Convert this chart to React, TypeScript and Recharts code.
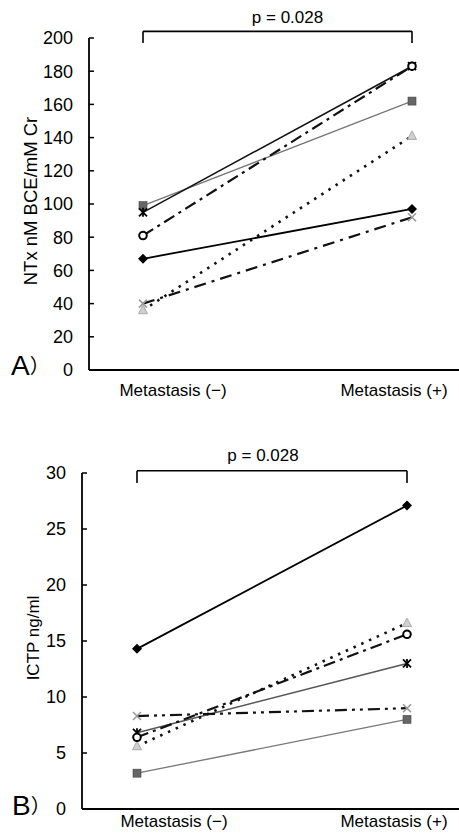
import React from "react";
import { LineChart, Line, XAxis, YAxis, ReferenceLine } from "recharts";

const categories = ["Metastasis (−)", "Metastasis (+)"];

// Panel A: NTx nM BCE/mM Cr
const ntxDiamond = [67, 97];
const ntxCircle = [81, 183];
const ntxSquare = [99, 162];
const ntxAsterisk = [95, 183];
const ntxTriangle = [36, 141];
const ntxCross = [40, 92];
const ntxTicks = [0, 20, 40, 60, 80, 100, 120, 140, 160, 180, 200];

// Panel B: ICTP ng/ml
const ictpDiamond = [14.3, 27.1];
const ictpTriangle = [5.6, 16.6];
const ictpCircle = [6.4, 15.6];
const ictpAsterisk = [6.8, 13.0];
const ictpCross = [8.3, 9.0];
const ictpSquare = [3.2, 8.0];
const ictpTicks = [0, 5, 10, 15, 20, 25, 30];

const FONT = "'Liberation Sans', Arial, sans-serif";

type Kind = "diamond" | "circle" | "square" | "asterisk" | "triangle" | "cross";

interface SeriesStyle {
  kind: Kind;
  stroke: string;
  width: number;
  dash?: string;
}

function buildRows(series: Record<string, number[]>) {
  return categories.map((c, i) => {
    const row: Record<string, string | number> = { cat: c };
    Object.keys(series).forEach((k) => (row[k] = series[k][i]));
    return row;
  });
}

const ntxRows = buildRows({
  square: ntxSquare,
  asterisk: ntxAsterisk,
  triangle: ntxTriangle,
  cross: ntxCross,
  diamond: ntxDiamond,
  circle: ntxCircle,
});

const ictpRows = buildRows({
  square: ictpSquare,
  asterisk: ictpAsterisk,
  triangle: ictpTriangle,
  cross: ictpCross,
  circle: ictpCircle,
  diamond: ictpDiamond,
});

const ntxStyles: SeriesStyle[] = [
  { kind: "square", stroke: "#777", width: 1.3 },
  { kind: "asterisk", stroke: "#111", width: 1.5 },
  { kind: "triangle", stroke: "#111", width: 2.6, dash: "2.5 6" },
  { kind: "cross", stroke: "#111", width: 2.2, dash: "12 6 3 6" },
  { kind: "diamond", stroke: "#000", width: 1.8 },
  { kind: "circle", stroke: "#111", width: 2.2, dash: "12 5 3 5" },
];

const ictpStyles: SeriesStyle[] = [
  { kind: "square", stroke: "#777", width: 1.3 },
  { kind: "asterisk", stroke: "#555", width: 1.5 },
  { kind: "triangle", stroke: "#111", width: 2.6, dash: "2.5 6" },
  { kind: "cross", stroke: "#111", width: 2.2, dash: "12 5 3 5 3 5" },
  { kind: "circle", stroke: "#111", width: 2.2, dash: "12 5 3 5" },
  { kind: "diamond", stroke: "#000", width: 1.8 },
];

function Marker({ cx, cy, kind }: { cx: number; cy: number; kind: Kind }) {
  if (cx == null || cy == null) return null;
  switch (kind) {
    case "diamond":
      return <path d={`M${cx},${cy - 5}L${cx + 5},${cy}L${cx},${cy + 5}L${cx - 5},${cy}Z`} fill="#000" />;
    case "circle":
      return <circle cx={cx} cy={cy} r={3.8} fill="#fff" stroke="#000" strokeWidth={2} />;
    case "square":
      return <rect x={cx - 4} y={cy - 4} width={8} height={8} fill="#666" stroke="#444" strokeWidth={0.6} />;
    case "asterisk":
      return (
        <g stroke="#000" strokeWidth={1.8}>
          <line x1={cx - 4} y1={cy - 4} x2={cx + 4} y2={cy + 4} />
          <line x1={cx - 4} y1={cy + 4} x2={cx + 4} y2={cy - 4} />
          <line x1={cx} y1={cy - 4.5} x2={cx} y2={cy + 4.5} />
        </g>
      );
    case "triangle":
      return <path d={`M${cx},${cy - 5}L${cx + 4.5},${cy + 3.5}L${cx - 4.5},${cy + 3.5}Z`} fill="#d0d0d0" stroke="#aaa" strokeWidth={1} />;
    case "cross":
      return (
        <g stroke="#999" strokeWidth={1.6}>
          <line x1={cx - 4} y1={cy - 4} x2={cx + 4} y2={cy + 4} />
          <line x1={cx - 4} y1={cy + 4} x2={cx + 4} y2={cy - 4} />
        </g>
      );
  }
  return null;
}

const dotFor = (kind: Kind) => (p: any) => <Marker key={`${kind}-${p.index}`} cx={p.cx} cy={p.cy} kind={kind} />;

interface PanelProps {
  rows: Record<string, string | number>[];
  styles: SeriesStyle[];
  ticks: number[];
  yLabel: string;
  yLabelSize: number;
  height: number;
  marginTop: number;
  marginBottom: number;
  axisWidth: number;
  xAxisHeight: number;
  padLeft: number;
  padRight: number;
  labelShift: number[];
  labelBaseline: number;
  labelX: number;
  bracketLow: number;
  bracketHigh: number;
  pOffset: number;
  pDx: number;
}

function Panel(props: PanelProps) {
  const top = props.ticks[props.ticks.length - 1];
  const XTick = (t: any) => (
    <text
      x={t.x + props.labelShift[t.index]}
      y={t.y + props.labelBaseline}
      textAnchor="middle"
      fontSize={17}
      fontFamily={FONT}
      fill="#000"
    >
      {t.payload.value}
    </text>
  );
  return (
    <LineChart
      width={459}
      height={props.height}
      data={props.rows}
      margin={{ top: props.marginTop, right: 0, bottom: props.marginBottom, left: 0 }}
    >
      <XAxis
        dataKey="cat"
        padding={{ left: props.padLeft, right: props.padRight }}
        height={props.xAxisHeight}
        axisLine={{ stroke: "#000", strokeWidth: 2 }}
        tickLine={false}
        tickSize={0}
        tickMargin={0}
        tick={XTick}
        interval={0}
      />
      <YAxis
        type="number"
        domain={[0, top]}
        ticks={props.ticks}
        width={props.axisWidth}
        axisLine={{ stroke: "#000", strokeWidth: 1.8 }}
        tickLine={{ stroke: "#000", strokeWidth: 1.5 }}
        tickSize={-5}
        tickMargin={21}
        tick={{ fontSize: 18, fontFamily: FONT, fill: "#000" }}
        label={{
          content: (lp: any) => {
            const vb = lp.viewBox;
            const cx = vb.x + props.labelX;
            const cy = vb.y + vb.height / 2 - 3;
            return (
              <text
                x={cx}
                y={cy}
                transform={`rotate(-90 ${cx} ${cy})`}
                textAnchor="middle"
                dominantBaseline="central"
                fontSize={props.yLabelSize}
                fontFamily={FONT}
                fill="#000"
              >
                {props.yLabel}
              </text>
            );
          },
        }}
      />
      <ReferenceLine
        segment={[
          { x: categories[0], y: props.bracketLow },
          { x: categories[0], y: props.bracketHigh },
        ]}
        stroke="#000"
        strokeWidth={1.6}
        ifOverflow="visible"
      />
      <ReferenceLine
        segment={[
          { x: categories[0], y: props.bracketHigh },
          { x: categories[1], y: props.bracketHigh },
        ]}
        stroke="#000"
        strokeWidth={1.6}
        ifOverflow="visible"
        label={{
          value: "p = 0.028",
          position: "top",
          offset: props.pOffset,
          dx: props.pDx,
          fontSize: 17,
          fontFamily: FONT,
          fill: "#000",
        }}
      />
      <ReferenceLine
        segment={[
          { x: categories[1], y: props.bracketHigh },
          { x: categories[1], y: props.bracketLow },
        ]}
        stroke="#000"
        strokeWidth={1.6}
        ifOverflow="visible"
      />
      {props.styles.map((s) => (
        <Line
          key={s.kind}
          dataKey={s.kind}
          stroke={s.stroke}
          strokeWidth={s.width}
          strokeDasharray={s.dash}
          dot={dotFor(s.kind)}
          activeDot={false}
          isAnimationActive={false}
        />
      ))}
    </LineChart>
  );
}

export default function App() {
  return (
    <div style={{ position: "absolute", left: 0, top: 0, width: 459, height: 833, background: "#fff" }}>
      <div style={{ position: "absolute", left: 0, top: 0 }}>
        <Panel
          rows={ntxRows}
          styles={ntxStyles}
          ticks={ntxTicks}
          yLabel="NTx nM BCE/mM Cr"
          yLabelSize={18.5}
          height={410}
          marginTop={38}
          marginBottom={9}
          axisWidth={89}
          xAxisHeight={31}
          padLeft={54}
          padRight={47}
          labelShift={[30, -18]}
          labelBaseline={26}
          labelX={30}
          bracketLow={197}
          bracketHigh={204}
          pOffset={8}
          pDx={10}
        />
      </div>
      <div style={{ position: "absolute", left: 0, top: 420 }}>
        <Panel
          rows={ictpRows}
          styles={ictpStyles}
          ticks={ictpTicks}
          yLabel="ICTP ng/ml"
          yLabelSize={17}
          height={413}
          marginTop={53}
          marginBottom={0}
          axisWidth={82}
          xAxisHeight={24}
          padLeft={55}
          padRight={52}
          labelShift={[37, -13]}
          labelBaseline={18}
          labelX={33}
          bracketLow={29.1}
          bracketHigh={30.2}
          pOffset={10}
          pDx={-9}
        />
      </div>
      <svg style={{ position: "absolute", left: 0, top: 0 }} width={459} height={833}>
        <text x={11} y={375} fontSize={28} fontFamily={FONT} fill="#000">
          A<tspan fontSize={20} fontFamily="'Noto Sans CJK JP'" dy={-2}>）</tspan>
        </text>
        <text x={12} y={815} fontSize={28} fontFamily={FONT} fill="#000">
          B<tspan fontSize={20} fontFamily="'Noto Sans CJK JP'" dy={-2}>）</tspan>
        </text>
      </svg>
    </div>
  );
}
